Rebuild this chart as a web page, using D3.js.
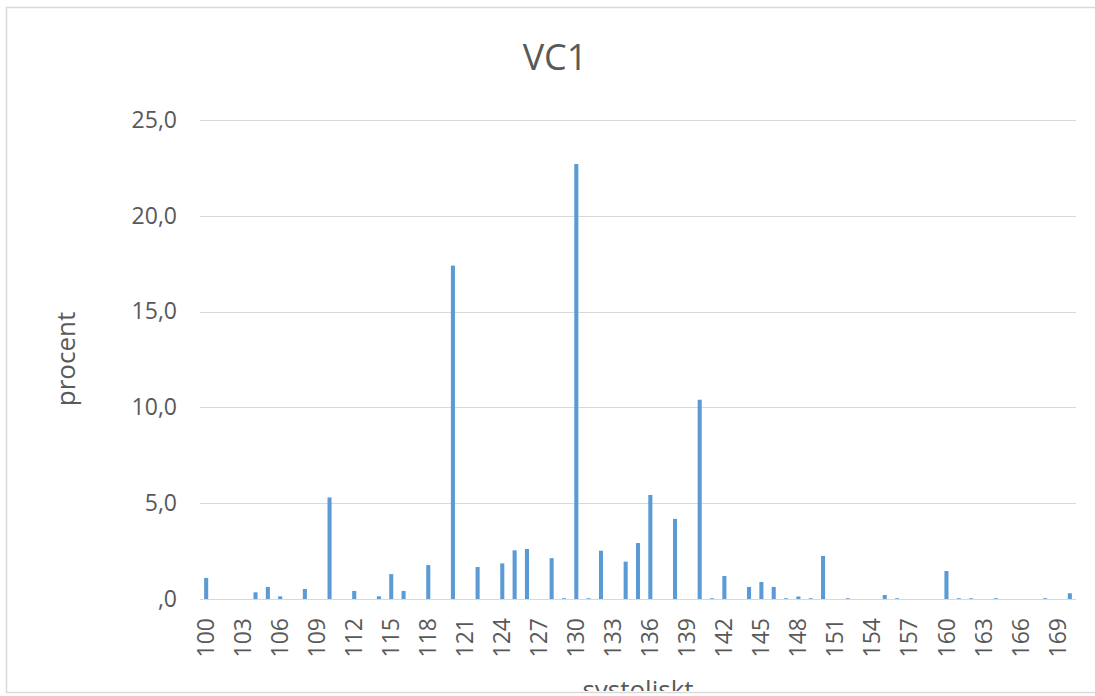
<!DOCTYPE html>
<html lang="sv">
<head>
<meta charset="UTF-8">
<title>VC1</title>
<script src="https://d3js.org/d3.v7.min.js"></script>
<style>
  html, body { margin: 0; padding: 0; background: #fff; }
  svg { display: block; font-family: "Open Sans", "Liberation Sans", sans-serif; }
  .tick text { fill: #595959; }
</style>
</head>
<body>
<svg width="1095" height="696"></svg>
<script>
// systoliskt blodtryck (kategorier) och procent
const categories = [100, 101, 102, 103, 104, 105, 106, 107, 108, 109,
                    110, 111, 112, 113, 114, 115, 116, 117, 118, 119,
                    120, 121, 122, 123, 124, 125, 126, 127, 128, 129,
                    130, 131, 132, 133, 134, 135, 136, 137, 138, 139,
                    140, 141, 142, 143, 144, 145, 146, 147, 148, 149,
                    150, 151, 152, 153, 154, 155, 156, 157, 158, 159,
                    160, 161, 162, 163, 164, 165, 166, 167, 168, 169,
                    170];
const procent = [1.1, 0, 0, 0, 0.35, 0.63, 0.14, 0, 0.52, 0,
                 5.3, 0, 0.42, 0, 0.14, 1.3, 0.42, 0, 1.77, 0,
                 17.4, 0, 1.67, 0, 1.86, 2.54, 2.61, 0, 2.13, 0.04,
                 22.7, 0.04, 2.52, 0, 1.95, 2.92, 5.43, 0, 4.18, 0,
                 10.4, 0.04, 1.2, 0, 0.63, 0.89, 0.63, 0.04, 0.13, 0.04,
                 2.25, 0, 0.04, 0, 0, 0.21, 0.04, 0, 0, 0,
                 1.46, 0.04, 0.04, 0, 0.04, 0, 0, 0, 0.04, 0,
                 0.3];
const yTicks = [0, 5, 10, 15, 20, 25];

const data = categories.map((c, i) => ({ cat: c, val: procent[i] }));

const svg = d3.select("svg");
const W = 1095, H = 696;
const plot = { left: 200, right: 1076, top: 120, bottom: 599 };

svg.append("rect").attr("width", W).attr("height", H).attr("fill", "#fff");

// ram runt diagrammet
svg.append("rect")
  .attr("x", 6.5).attr("y", 7.5)
  .attr("width", 1100).attr("height", 685)
  .attr("fill", "none").attr("stroke", "#d9d9d9").attr("stroke-width", 1.5);

const x = d3.scaleBand()
  .domain(categories)
  .range([plot.left, plot.right])
  .paddingInner(0.67)
  .paddingOuter(0.335);

const y = d3.scaleLinear()
  .domain([0, 25])
  .range([plot.bottom, plot.top]);

const fmt = v => v === 0 ? ",0" : d3.format(".1f")(v).replace(".", ",");

// rutnät
svg.append("g")
  .selectAll("line")
  .data(yTicks)
  .join("line")
  .attr("x1", plot.left).attr("x2", plot.right)
  .attr("y1", d => Math.round(y(d)) + 0.5).attr("y2", d => Math.round(y(d)) + 0.5)
  .attr("stroke", "#d9d9d9").attr("stroke-width", 1.2);

// y-axel
const yAxis = svg.append("g")
  .attr("transform", `translate(${plot.left - 23},0)`)
  .call(d3.axisLeft(y).tickValues(yTicks).tickFormat(fmt).tickSize(0).tickPadding(0));
yAxis.select(".domain").remove();
yAxis.selectAll("text").attr("font-size", 23).attr("font-family", "Open Sans");

// staplar
svg.append("g")
  .selectAll("rect")
  .data(data)
  .join("rect")
  .attr("x", d => x(d.cat))
  .attr("y", d => y(d.val))
  .attr("width", x.bandwidth())
  .attr("height", d => y(0) - y(d.val))
  .attr("fill", "#5b9bd5");

// x-axel
const xAxis = svg.append("g")
  .attr("transform", `translate(0,${plot.bottom})`)
  .call(d3.axisBottom(x)
    .tickValues(categories.filter((d, i) => i % 3 === 0))
    .tickSize(0));
xAxis.select(".domain").remove();
xAxis.selectAll("text")
  .attr("font-size", 23)
  .attr("font-family", "Open Sans")
  .attr("text-anchor", "end")
  .attr("transform", "translate(0,19) rotate(-90)")
  .attr("x", 0).attr("y", 0).attr("dy", "0.35em");

// titel
svg.append("text")
  .attr("x", 555).attr("y", 70)
  .attr("text-anchor", "middle")
  .attr("font-size", 36)
  .attr("fill", "#595959")
  .text("VC1");

// axeltitlar
svg.append("text")
  .attr("transform", "translate(75,359) rotate(-90)")
  .attr("text-anchor", "middle")
  .attr("font-size", 26)
  .attr("fill", "#595959")
  .text("procent");

svg.append("clipPath").attr("id", "ram")
  .append("rect").attr("x", 0).attr("y", 0).attr("width", W).attr("height", 691);

svg.append("text")
  .attr("clip-path", "url(#ram)")
  .attr("x", (plot.left + plot.right) / 2).attr("y", 699)
  .attr("text-anchor", "middle")
  .attr("font-size", 26)
  .attr("fill", "#595959")
  .text("systoliskt");
</script>
</body>
</html>
